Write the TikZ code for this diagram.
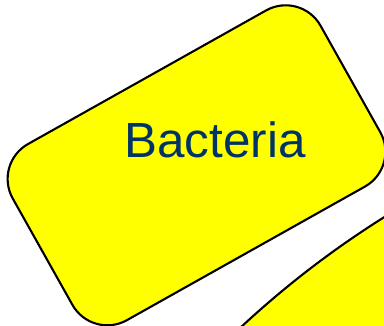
\documentclass[tikz,border=0pt]{standalone}
\usepackage{fontspec}
\setmainfont{Liberation Sans}
\definecolor{bactyellow}{HTML}{FFFF00}
\definecolor{bactblue}{HTML}{003366}
\tikzset{
  cellshape/.style={draw=black, line width=2.1pt, fill=bactyellow},
  celllabel/.style={text=bactblue, font=\fontsize{49.4}{59}\selectfont, inner sep=0pt}
}
\begin{document}
\begin{tikzpicture}[x=1pt,y=-1pt]
\useasboundingbox (0,0) rectangle (384,326);
\clip (0,0) rectangle (384,326);
\node[cellshape, circle, minimum size=1906pt, inner sep=0pt] (cell) at (890,1025) {};
\node[cellshape, rectangle, rounded corners=40pt, minimum width=353pt, minimum height=202pt, inner sep=0pt, rotate=29.3] (bact) at (196.5,165.3) {};
\node[celllabel, anchor=base] (lbl) at (215,157.7) {Bacteria};
\end{tikzpicture}
\end{document}
